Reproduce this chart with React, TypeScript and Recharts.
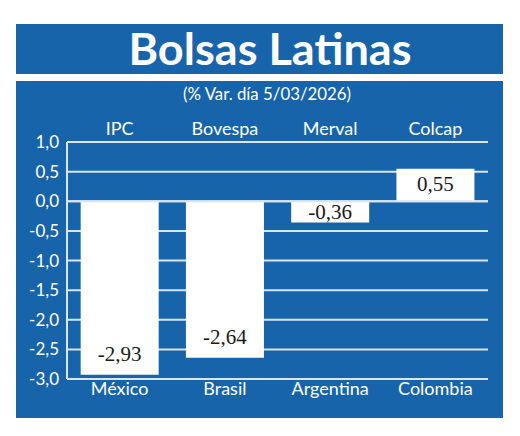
import React from 'react';
import { BarChart, Bar, XAxis, YAxis, CartesianGrid, ReferenceLine, LabelList } from 'recharts';

const countries = ['México', 'Brasil', 'Argentina', 'Colombia'];
const indices = ['IPC', 'Bovespa', 'Merval', 'Colcap'];
const changes = [-2.93, -2.64, -0.36, 0.55];
const yTicks = [-3, -2.5, -2, -1.5, -1, -0.5, 0, 0.5, 1];

const data = countries.map((c, i) => ({ country: c, index: indices[i], value: changes[i] }));

const BLUE = '#1864ab';
const LINE = '#d6e6f5';
const FONT = 'Lato, "Open Sans", sans-serif';

const fmt = (v: number) => v.toFixed(1).replace('.', ',');
const fmt2 = (v: number) => v.toFixed(2).replace('.', ',');

const ValueLabel = (props: any) => {
  const { x, y, width, height, value } = props;
  const top = Math.min(y, y + height);
  const bottom = Math.max(y, y + height);
  const center = (top + bottom) / 2;
  const cx = x + width / 2;
  const cy = value < 0 ? Math.max(center, bottom - 21) : Math.max(center - 1, top + 15);
  return (
    <text x={cx} y={cy} dy="0.35em" textAnchor="middle" fill="#1a1a1a"
      style={{ fontFamily: '"Liberation Serif", "DejaVu Serif", serif', fontSize: 21 }}>
      {fmt2(value)}
    </text>
  );
};

export default function App() {
  return (
    <div style={{ position: 'fixed', left: 0, top: 0, width: 520, height: 436, background: '#ffffff', overflow: 'hidden' }}>
      <svg width={520} height={436} style={{ position: 'absolute', left: 0, top: 0 }}>
        <rect x={16} y={24} width={487} height={50} fill={BLUE} />
        <rect x={16} y={81} width={487} height={337} fill={BLUE} />
        <text x={270} y={65} textAnchor="middle" fill="#ffffff" textLength={283} lengthAdjust="spacingAndGlyphs"
          style={{ fontFamily: FONT, fontWeight: 700, fontSize: 44 }}>Bolsas Latinas</text>
        <text x={267} y={100} textAnchor="middle" fill="#ffffff" textLength={168} lengthAdjust="spacingAndGlyphs"
          style={{ fontFamily: FONT, fontSize: 16.5 }}>(% Var. día 5/03/2026)</text>
      </svg>
      <div style={{ position: 'absolute', left: 0, top: 0 }}>
        <BarChart width={520} height={436} data={data} barCategoryGap="13%"
          margin={{ top: 112, right: 32, bottom: 27, left: 17 }}>
          <CartesianGrid vertical={false} stroke={LINE} strokeWidth={2} />
          <XAxis dataKey="country" axisLine={{ stroke: LINE, strokeWidth: 2 }} tickLine={false}
            tickSize={0} tickMargin={3} height={30} interval={0}
            tick={{ fill: '#ffffff', fontSize: 18, fontFamily: FONT }} />
          <XAxis xAxisId="top" dataKey="index" orientation="top" axisLine={false} tickLine={false}
            tickSize={0} tickMargin={7} height={30} interval={0}
            tick={{ fill: '#ffffff', fontSize: 18, fontFamily: FONT }} />
          <YAxis domain={[-3, 1]} ticks={yTicks} tickFormatter={fmt} width={50} interval={0}
            axisLine={{ stroke: LINE, strokeWidth: 2 }} tickLine={false}
            tick={{ fill: '#ffffff', fontSize: 17, fontFamily: FONT }} />
          <ReferenceLine y={0} stroke={LINE} strokeWidth={2} />
          <Bar dataKey="value" fill="#ffffff" isAnimationActive={false}>
            <LabelList dataKey="value" content={ValueLabel} />
          </Bar>
        </BarChart>
      </div>
    </div>
  );
}
